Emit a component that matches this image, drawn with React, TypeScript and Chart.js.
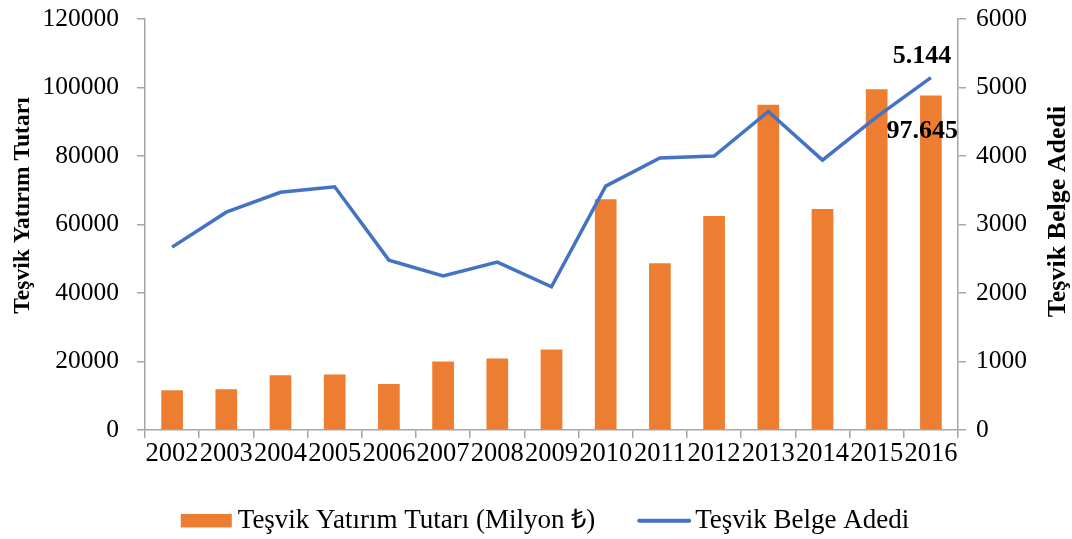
import React, { useEffect, useRef } from 'react';
import { Chart, registerables } from 'chart.js';

Chart.register(...registerables);

const years = ['2002', '2003', '2004', '2005', '2006', '2007', '2008', '2009', '2010', '2011', '2012', '2013', '2014', '2015', '2016'];
const investmentAmounts = [11600, 11900, 16000, 16200, 13400, 20000, 20900, 23500, 67400, 48700, 62500, 95000, 64500, 99500, 97645];
const certificateCounts = [2670, 3180, 3470, 3550, 2480, 2250, 2450, 2090, 3560, 3970, 4000, 4650, 3940, 4570, 5144];
const barSeriesName = 'Teşvik Yatırım Tutarı (Milyon ₺)';
const lineSeriesName = 'Teşvik Belge Adedi';
const leftAxisTitle = 'Teşvik Yatırım Tutarı';
const rightAxisTitle = 'Teşvik Belge Adedi';
const barEndLabel = '97.645';
const lineEndLabel = '5.144';

const FONT = '"Liberation Serif", "Times New Roman", serif';
const ORANGE = '#ED7D31';
const BLUE = '#4472C4';
const AXIS = '#a6a6a6';

const overlayPlugin = {
  id: 'overlay',
  afterDatasetsDraw(chart: any) {
    const ctx = chart.ctx;
    const area = chart.chartArea;
    const last = years.length - 1;
    const bar = chart.getDatasetMeta(0).data[last];
    const pt = chart.getDatasetMeta(1).data[last];
    ctx.save();
    ctx.font = `bold 26px ${FONT}`;
    ctx.fillStyle = '#000';
    ctx.textBaseline = 'middle';
    ctx.textAlign = 'right';
    const w1 = ctx.measureText(barEndLabel).width;
    ctx.fillText(barEndLabel, Math.min(bar.x + w1 / 2, area.right), bar.y + 36);
    ctx.textAlign = 'center';
    ctx.fillText(lineEndLabel, pt.x - 9, pt.y - 21);
    ctx.restore();
  },
  afterDraw(chart: any) {
    const ctx = chart.ctx;
    const area = chart.chartArea;
    const cy = (area.top + area.bottom) / 2;
    // axis titles
    ctx.save();
    ctx.font = `bold 23.5px ${FONT}`;
    ctx.fillStyle = '#000';
    ctx.textAlign = 'center';
    ctx.textBaseline = 'middle';
    ctx.translate(23, cy - 19);
    ctx.rotate(-Math.PI / 2);
    ctx.fillText(leftAxisTitle, 0, 0);
    ctx.restore();
    ctx.save();
    ctx.font = `bold 26px ${FONT}`;
    ctx.fillStyle = '#000';
    ctx.textAlign = 'center';
    ctx.textBaseline = 'middle';
    ctx.translate(1058, cy - 13);
    ctx.rotate(-Math.PI / 2);
    ctx.fillText(rightAxisTitle, 0, 0);
    ctx.restore();

    // legend
    const ds0 = chart.data.datasets[0];
    const ds1 = chart.data.datasets[1];
    ctx.save();
    ctx.font = `27px ${FONT}`;
    ctx.fillStyle = '#000';
    ctx.textBaseline = 'alphabetic';
    ctx.textAlign = 'left';
    const t0 = ctx.measureText(ds0.label).width;
    const t1 = ctx.measureText(ds1.label).width;
    const boxW = 51, gap0 = 6, between = 42, lineW = 54, gap1 = 4;
    const total = boxW + gap0 + t0 + between + lineW + gap1 + t1;
    let x = 545 - total / 2;
    const midY = 520.7;
    const baseY = 528;
    ctx.fillStyle = ds0.backgroundColor;
    ctx.fillRect(x, midY - 6.75, boxW, 13.5);
    x += boxW + gap0;
    ctx.fillStyle = '#000';
    ctx.fillText(ds0.label, x, baseY);
    x += t0 + between;
    ctx.strokeStyle = ds1.borderColor;
    ctx.lineWidth = 4;
    ctx.lineCap = 'round';
    ctx.beginPath();
    ctx.moveTo(x + 2, midY);
    ctx.lineTo(x + lineW - 2, midY);
    ctx.stroke();
    x += lineW + gap1;
    ctx.fillText(ds1.label, x, baseY);
    ctx.restore();
  },
};

export default function App() {
  const canvasRef = useRef<HTMLCanvasElement>(null);

  useEffect(() => {
    const canvas = canvasRef.current;
    if (!canvas) return;
    const chart = new Chart(canvas, {
      type: 'bar',
      data: {
        labels: years,
        datasets: [
          {
            type: 'bar',
            label: barSeriesName,
            data: investmentAmounts,
            backgroundColor: ORANGE,
            borderWidth: 0,
            yAxisID: 'y',
            categoryPercentage: 1,
            barPercentage: 0.4,
            order: 2,
          },
          {
            type: 'line',
            label: lineSeriesName,
            data: certificateCounts,
            borderColor: BLUE,
            backgroundColor: BLUE,
            borderWidth: 3.5,
            pointRadius: 0,
            tension: 0,
            yAxisID: 'y1',
            order: 1,
          },
        ],
      } as any,
      options: {
        responsive: true,
        maintainAspectRatio: false,
        animation: false,
        layout: { padding: { top: 19, left: 0, right: 0, bottom: 63 } },
        plugins: {
          tooltip: { enabled: false },
          legend: { display: false },
        },
        scales: {
          x: {
            grid: { offset: true, drawOnChartArea: false, tickLength: 8, color: AXIS, lineWidth: 1.5 },
            border: { color: AXIS, width: 1.5 },
            ticks: { color: '#000', font: { family: FONT, size: 26.5 }, padding: 0, maxRotation: 0, autoSkip: false },
            afterFit: (s: any) => { s.height = 46; s.paddingLeft = 0; s.paddingRight = 0; },
          },
          y: {
            position: 'left',
            min: 0,
            max: 120000,
            grid: { drawOnChartArea: false, tickLength: 8, color: AXIS, lineWidth: 1.5 },
            border: { color: AXIS, width: 1.5 },
            ticks: { stepSize: 20000, color: '#000', font: { family: FONT, size: 25.5 }, padding: 18, callback: (v: any) => String(v) },
            afterFit: (s: any) => { s.width = 145; s.paddingTop = 0; s.paddingBottom = 0; },
          },
          y1: {
            position: 'right',
            min: 0,
            max: 6000,
            grid: { drawOnChartArea: false, tickLength: 8, color: AXIS, lineWidth: 1.5 },
            border: { color: AXIS, width: 1.5 },
            ticks: { stepSize: 1000, color: '#000', font: { family: FONT, size: 25.5 }, padding: 10, callback: (v: any) => String(v) },
            afterFit: (s: any) => { s.width = 114; s.paddingTop = 0; s.paddingBottom = 0; },
          },
        },
      } as any,
      plugins: [overlayPlugin],
    });
    return () => chart.destroy();
  }, []);

  return (
    <div style={{ position: 'absolute', left: 0, top: 0, width: 1072, height: 539, background: '#fff' }}>
      <canvas ref={canvasRef} />
    </div>
  );
}
